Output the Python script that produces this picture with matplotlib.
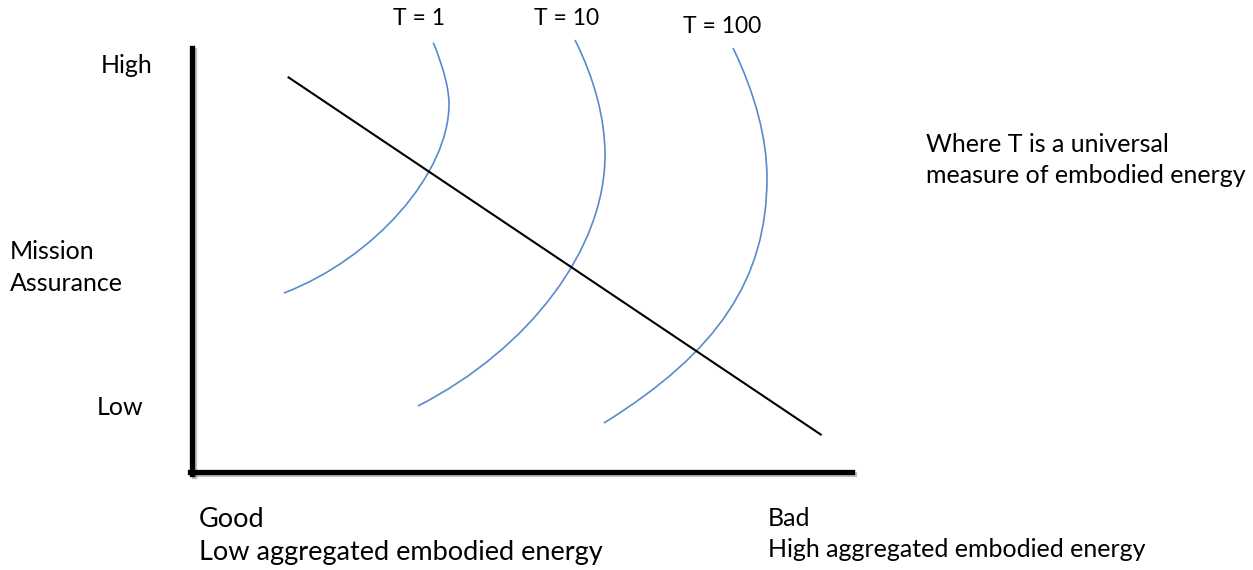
import matplotlib
matplotlib.use("Agg")
import matplotlib.pyplot as plt
from matplotlib.path import Path
from matplotlib.patches import PathPatch
import matplotlib.patheffects as pe

plt.rcParams['font.family'] = ['Lato', 'DejaVu Sans']

# ---- data (chart units: the axis box spans 0..100 in x and y) ----
# straight trade-off line
trend_x = [14.5, 95.4]
trend_y = [93.2, 8.7]

# iso-T curves as two joined cubic Bezier segments:
# start, ctrl, ctrl, rightmost point, ctrl, ctrl, end
t1_x = [36.56, 38.14, 38.94, 38.94, 38.94, 27.70, 13.94]
t1_y = [101.25, 95.26, 90.35, 86.79, 70.50, 50.45, 42.22]

t10_x = [58.03, 61.02, 62.58, 62.58, 62.58, 51.24, 34.24]
t10_y = [101.89, 92.59, 83.30, 74.76, 52.78, 29.10, 15.57]

t100_x = [81.97, 85.35, 87.12, 87.12, 87.12, 79.71, 62.42]
t100_y = [100.00, 89.15, 78.63, 69.34, 45.59, 28.26, 11.56]

curve_labels = ["T = 1", "T = 10", "T = 100"]

blue = '#5A8ACB'

fig = plt.figure(figsize=(12.53, 5.70), dpi=100)
ax = fig.add_axes([0, 0, 1, 1])
ax.set_xlim(-29.09, 160.76)
ax.set_ylim(-23.11, 111.32)
ax.set_xticks([])
ax.set_yticks([])
for s in ('top', 'right'):
    ax.spines[s].set_visible(False)
for s in ('left', 'bottom'):
    sp = ax.spines[s]
    sp.set_position(('data', 0))
    sp.set_linewidth(3.8)
    sp.set_color('black')
    sp.set_path_effects([pe.SimpleLineShadow(offset=(1.5, -1.5), shadow_color='k', alpha=0.25),
                         pe.Normal()])
ax.spines['left'].set_bounds(-0.5, 100)
ax.spines['bottom'].set_bounds(-0.3, 100)

# trend line
ax.plot(trend_x, trend_y, color='black', lw=1.5, solid_capstyle='butt')

# curves
codes = [Path.MOVETO] + [Path.CURVE4] * 6
for xs, ys in ((t1_x, t1_y), (t10_x, t10_y), (t100_x, t100_y)):
    ax.add_patch(PathPatch(Path(list(zip(xs, ys)), codes), fill=False,
                           edgecolor=blue, lw=1.2))

fs_t = 16.5
ax.text(34.4, 105.54, curve_labels[0], ha='center', va='baseline', fontsize=fs_t)
ax.text(56.8, 105.54, curve_labels[1], ha='center', va='baseline', fontsize=fs_t)
ax.text(80.3, 103.42, curve_labels[2], ha='center', va='baseline', fontsize=fs_t)

fs = 18
ax.text(-13.9, 93.99, 'High', ha='left', va='baseline', fontsize=fs)
ax.text(-27.6, 50.35, 'Mission', ha='left', va='baseline', fontsize=fs)
ax.text(-27.6, 42.76, 'Assurance', ha='left', va='baseline', fontsize=fs)
ax.text(-14.4, 13.56, 'Low', ha='left', va='baseline', fontsize=fs)

ax.text(111.2, 75.54, 'Where T is a universal', ha='left', va='baseline', fontsize=fs)
ax.text(111.2, 68.16, 'measure of embodied energy', ha='left', va='baseline', fontsize=fs)

fs_b = 19.5
ax.text(1.06, -12.97, 'Good', ha='left', va='baseline', fontsize=fs_b)
ax.text(1.06, -20.75, 'Low aggregated embodied energy', ha='left', va='baseline', fontsize=fs_b)
ax.text(87.3, -12.74, 'Bad', ha='left', va='baseline', fontsize=fs)
ax.text(87.3, -20.05, 'High aggregated embodied energy', ha='left', va='baseline', fontsize=fs)

fig.savefig('out.png', dpi=100, facecolor='white')
